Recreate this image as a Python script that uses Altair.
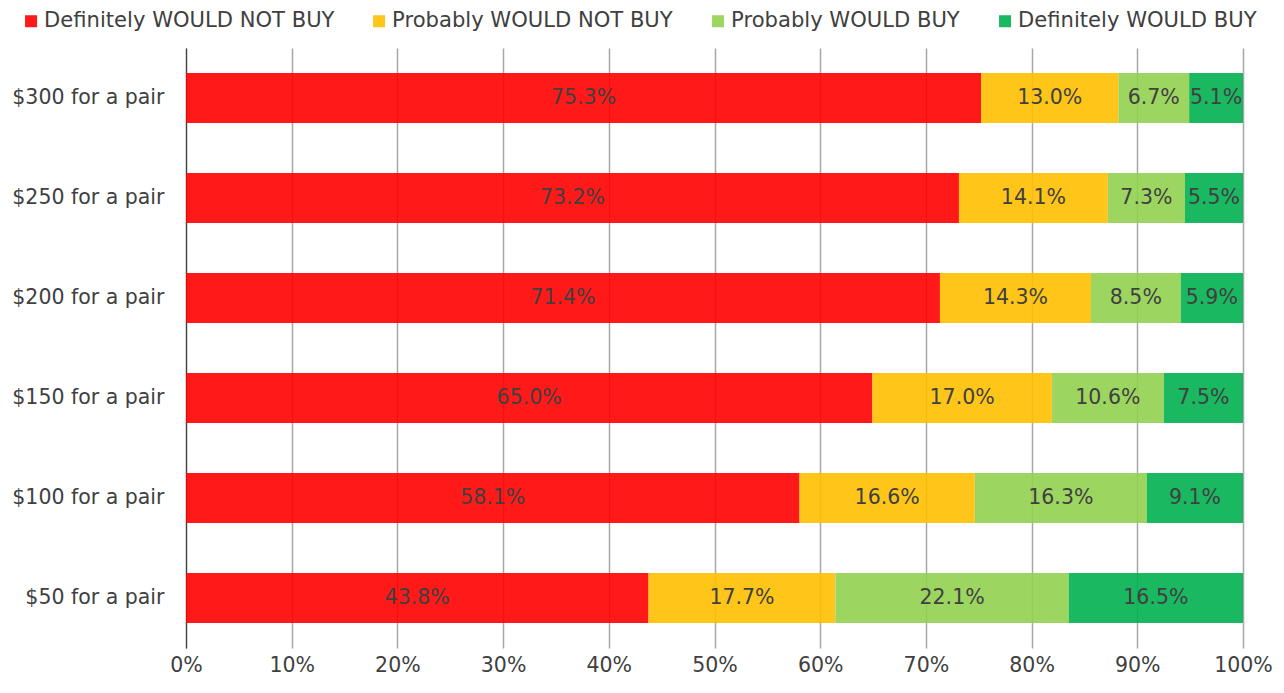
import altair as alt
import pandas as pd

prices = ["$300 for a pair", "$250 for a pair", "$200 for a pair",
          "$150 for a pair", "$100 for a pair", "$50 for a pair"]
responses = ["Definitely WOULD NOT BUY", "Probably WOULD NOT BUY",
             "Probably WOULD BUY", "Definitely WOULD BUY"]
colors = ["#FF0000", "#FFC000", "#92D050", "#00B050"]

def_not = [75.3, 73.2, 71.4, 65.0, 58.1, 43.8]
prob_not = [13.0, 14.1, 14.3, 17.0, 16.6, 17.7]
prob_buy = [6.7, 7.3, 8.5, 10.6, 16.3, 22.1]
def_buy = [5.1, 5.5, 5.9, 7.5, 9.1, 16.5]

series = [def_not, prob_not, prob_buy, def_buy]
rows = []
for ri, (resp, vals) in enumerate(zip(responses, series)):
    for p, v in zip(prices, vals):
        rows.append({"price": p, "response": resp, "order": ri, "value": v,
                     "label": f"{v:.1f}%"})
df = pd.DataFrame(rows)

FONT = "DejaVu Sans"
TXT = "#404040"

base = alt.Chart(df).transform_stack(
    stack="value", groupby=["price"], as_=["v0", "v1"],
    offset="normalize", sort=[alt.SortField("order", order="ascending")]
).transform_calculate(mid="(datum.v0 + datum.v1) / 2")

yenc = alt.Y("price:N", sort=prices, title=None,
             scale=alt.Scale(paddingInner=0.5, paddingOuter=0.25),
             axis=alt.Axis(ticks=False, labelFont=FONT, labelFontSize=20.5,
                           labelColor=TXT, labelPadding=22, domainColor="#404040",
                           domainWidth=1.2, grid=False))

bars = base.mark_bar(opacity=0.9).encode(
    x=alt.X("v0:Q", title=None, scale=alt.Scale(domain=[0, 1], nice=False),
            axis=alt.Axis(format="0%", values=[i / 10 for i in range(11)],
                          domain=False, ticks=False, grid=True,
                          gridColor="#A6A6A6", gridWidth=1.5,
                          labelFlush=False, labelAlign="center",
                          labelFont=FONT, labelFontSize=20.5, labelColor=TXT,
                          labelPadding=7, labelBaseline="top")),
    x2="v1:Q",
    y=yenc,
    color=alt.Color("response:N", sort=responses,
                    scale=alt.Scale(domain=responses, range=colors),
                    legend=alt.Legend(title=None, orient="none", direction="horizontal",
                                      legendX=-165.5, legendY=-37.5,
                                      symbolType="square", symbolSize=144,
                                      symbolStrokeWidth=0, symbolOpacity=0.9,
                                      labelFont=FONT, labelFontSize=21.1,
                                      labelLimit=500,
                                      labelColor=TXT, labelOffset=2.5,
                                      columnPadding=34)),
)

labels = base.mark_text(font=FONT, fontSize=20.5, color=TXT,
                        align="center", baseline="middle").encode(
    x=alt.X("mid:Q"),
    y=alt.Y("price:N", sort=prices),
    text="label:N",
)

chart = alt.layer(bars, labels).properties(
    width=1057, height=600,
    autosize=alt.AutoSizeParams(type="none"),
    padding={"left": 178, "top": 40, "right": 30, "bottom": 40},
    background="white",
).configure_view(stroke=None)

chart.save("out.html", embed_options={"renderer": "svg", "actions": False})
